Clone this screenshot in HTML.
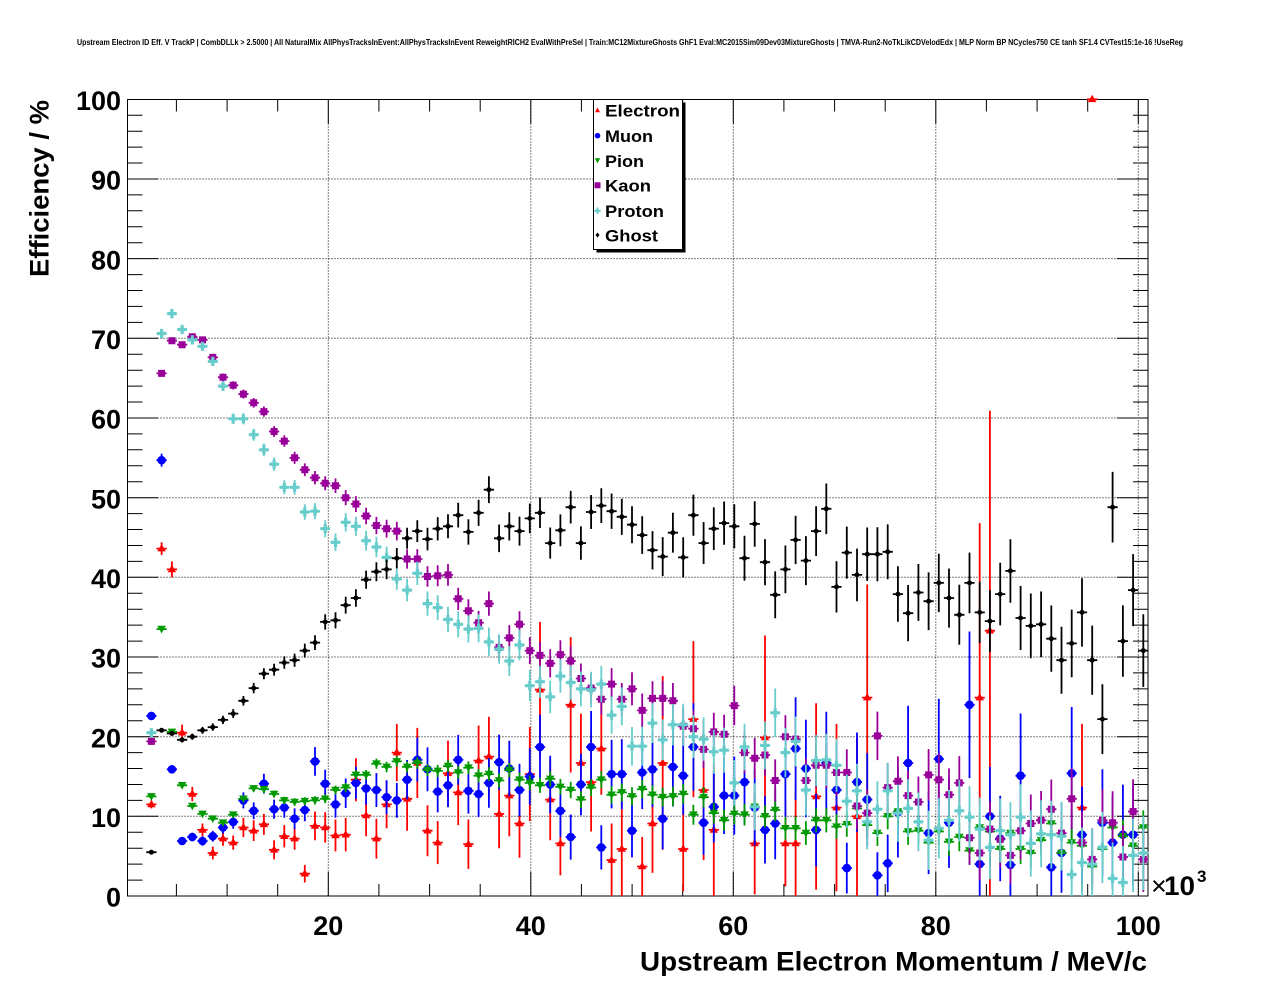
<!DOCTYPE html>
<html><head><meta charset="utf-8">
<style>html,body{margin:0;padding:0;background:#fff;}svg{display:block;}</style>
</head><body>
<svg id="s" xmlns="http://www.w3.org/2000/svg" width="1276" height="996" viewBox="0 0 1276 996" font-family="'Liberation Sans', Arial, sans-serif" font-weight="bold">
<rect width="1276" height="996" fill="#fff"/>
<text x="77" y="45" font-size="8" textLength="1106" lengthAdjust="spacingAndGlyphs">Upstream Electron ID Eff. V TrackP | CombDLLk &gt; 2.5000 | All NaturalMix AllPhysTracksInEvent:AllPhysTracksInEvent ReweightRICH2 EvalWithPreSel | Train:MC12MixtureGhosts GhF1 Eval:MC2015Sim09Dev03MixtureGhosts | TMVA-Run2-NoTkLikCDVelodEdx | MLP Norm BP NCycles750 CE tanh SF1.4 CVTest15:1e-16 !UseReg</text>
<path id="grid" fill="none" stroke="#000" stroke-width="1" stroke-dasharray="1 2" d=""/>
<path id="ticks" fill="none" stroke="#000" stroke-width="1" d=""/>
<rect x="127.5" y="99.5" width="1020.5" height="796.5" fill="none" stroke="#000" stroke-width="1"/>
<g id="data"></g>
<g font-size="27" text-anchor="end">
<text x="121" y="110">100</text>
<text x="121" y="189.7">90</text>
<text x="121" y="269.4">80</text>
<text x="121" y="349">70</text>
<text x="121" y="428.7">60</text>
<text x="121" y="508.4">50</text>
<text x="121" y="588">40</text>
<text x="121" y="667.7">30</text>
<text x="121" y="747.4">20</text>
<text x="121" y="827">10</text>
<text x="121" y="906.5">0</text>
</g>
<g font-size="27" text-anchor="middle">
<text x="328.3" y="935">20</text>
<text x="530.8" y="935">40</text>
<text x="733.3" y="935">60</text>
<text x="935.8" y="935">80</text>
<text x="1138.3" y="935">100</text>
</g>
<text x="1151" y="895" font-size="27" font-weight="normal">×</text>
<text x="1164" y="895" font-size="27" textLength="31" lengthAdjust="spacingAndGlyphs">10</text>
<text x="1197" y="882" font-size="17">3</text>
<text x="1147" y="970.5" font-size="27" text-anchor="end" textLength="507" lengthAdjust="spacingAndGlyphs">Upstream Electron Momentum / MeV/c</text>
<text transform="translate(48.5,277) rotate(-90)" x="0" y="0" font-size="27" textLength="177" lengthAdjust="spacingAndGlyphs">Efficiency / %</text>
<rect x="596.5" y="102.5" width="89" height="150" fill="#000"/>
<rect x="593.5" y="99.5" width="89" height="150" fill="#fff" stroke="#000" stroke-width="1"/>
<g font-size="17">
<text x="605" y="116.5" textLength="75" lengthAdjust="spacingAndGlyphs">Electron</text>
<text x="605" y="142" textLength="48" lengthAdjust="spacingAndGlyphs">Muon</text>
<text x="605" y="167" textLength="39" lengthAdjust="spacingAndGlyphs">Pion</text>
<text x="605" y="191.5" textLength="46" lengthAdjust="spacingAndGlyphs">Kaon</text>
<text x="605" y="217" textLength="59" lengthAdjust="spacingAndGlyphs">Proton</text>
<text x="605" y="241.5" textLength="53" lengthAdjust="spacingAndGlyphs">Ghost</text>
</g>
<path d="M597.5 107.5L600 112.3L595 112.3Z" fill="#ff0000"/>
<circle cx="597.5" cy="135.7" r="2.8" fill="#0000ff"/>
<path d="M594.8 158.3L600.2 158.3L597.5 163.3Z" fill="#009900"/>
<rect x="594.5" y="182.3" width="6" height="6" fill="#990099"/>
<path d="M596.5 207.5h2v2.2h2.2v2h-2.2v2.2h-2v-2.2h-2.2v-2h2.2Z" fill="#66cccc"/>
<path d="M597.5 232.5L599.5 235L597.5 237.5L595.5 235Z" fill="#000"/>
<script>
(function(){
const NS='http://www.w3.org/2000/svg';
const X=v=>125.8+10.125*v, Y=v=>896-7.967*v, XC=i=>151.4+10.226*i;
const r=n=>Math.round(n*10)/10;
let grid='',ticks='';
for(let v=10;v<=90;v+=10){const y=r(Y(v));grid+=`M127.5 ${y}H1148`;}
for(let v=20;v<=100;v+=20){const x=r(X(v));grid+=`M${x} 99.5V896`;}
for(let v=2;v<=98;v+=2){const y=r(Y(v));const L=v%10==0?31:15;ticks+=`M127.5 ${y}h${L}M1148 ${y}h${-L}`;}
for(let v=5;v<=100;v+=5){const x=r(X(v));const L=v%20==0?24:12;ticks+=`M${x} 896v${-L}M${x} 99.5v${L}`;}
document.getElementById('grid').setAttribute('d',grid);
document.getElementById('ticks').setAttribute('d',ticks);
const dataG=document.getElementById('data');
function addPath(d,attrs){const p=document.createElementNS(NS,'path');p.setAttribute('d',d);for(const k in attrs)p.setAttribute(k,attrs[k]);dataG.appendChild(p);}
function series(vals,errf,color,marker){
  let eb='',mk='';
  vals.forEach((v,i)=>{
    if(v==null) return;
    const x=XC(i), y=Y(v);
    const e=errf(i,v); let lo,hi;
    if(Array.isArray(e)){lo=e[0];hi=e[1];}else{lo=hi=e;}
    const y1=Y(Math.min(100,v+hi)), y2=Y(Math.max(0,v-lo));
    eb+=`M${r(x-5.1)} ${r(y)}H${r(x+5.1)}`;
    if(y2-y1>0.5) eb+=`M${r(x)} ${r(y1)}V${r(y2)}`;
    mk+=marker(x,y);
  });
  addPath(eb,{stroke:color,'stroke-width':1.8,fill:'none'});
  addPath(mk,{fill:color});
}
const triUp=(x,y)=>`M${r(x)} ${r(y-4.6)}L${r(x+4.2)} ${r(y+2.8)}L${r(x-4.2)} ${r(y+2.8)}Z`;
const circ=(x,y)=>`M${r(x-4.3)} ${r(y)}a4.3 4.3 0 1 0 8.6 0a4.3 4.3 0 1 0 -8.6 0Z`;
const triDn=(x,y)=>`M${r(x-4.3)} ${r(y-3.3)}L${r(x+4.3)} ${r(y-3.3)}L${r(x)} ${r(y+4.3)}Z`;
const sq=(x,y)=>`M${r(x-3.5)} ${r(y-3.5)}h7v7h-7Z`;
const cross=(x,y)=>`M${r(x-1.6)} ${r(y-4.6)}h3.2v3h3v3.2h-3v3h-3.2v-3h-3v-3.2h3Z`;
const dot=(x,y)=>`M${r(x-2.5)} ${r(y)}a2.5 2.5 0 1 0 5 0a2.5 2.5 0 1 0 -5 0Z`;
const N=null;
const E=[11.5,43.6,41.0,20.5,12.8,8.3,5.4,7.2,6.7,8.6,8.2,9.0,5.8,7.5,7.2,2.8,8.8,8.6,7.6,7.7,14.6,10.1,7.2,11.5,18.0,12.2,16.7,8.2,6.7,15.4,13.0,6.5,17.0,17.5,10.3,12.6,9.1,15.3,25.9,12.1,6.6,24.0,16.7,14.3,18.5,4.5,5.9,N,3.7,9.1,16.7,N,5.9,22.2,13.3,8.3,N,N,N,6.6,19.9,N,6.6,6.6,N,12.5,N,11.1,N,10.0,24.9,N,N,N,N,N,N,N,N,N,N,24.9,33.3,N,N,N,N,N,N,N,N,11.1,100,N,N,N,N,N];
const EE=[.5,.8,1.0,1.0,.9,.8,.8,.9,.9,1.2,1.3,1.3,1.2,1.4,1.4,1.1,1.8,1.9,2.0,2.1,2.7,2.6,2.5,3.0,3.6,4.0,4.4,3.2,2.7,4.1,4.1,3.1,4.4,5.0,4.3,5.1,4.3,5.9,8.5,5.1,4.0,8.5,6.2,6.2,5.8,4.6,5.9,0,3.7,6.2,10.9,0,5.3,9.8,8.8,8.3,0,0,0,6.4,12.8,0,5.4,6.6,0,11.7,0,10.5,0,10.0,14.2,0,0,0,0,0,0,0,0,0,0,[13.5,21.9],[33.3,27.6],0,0,0,0,0,0,0,0,10.5,0,0,0,0,0,0];
const M=[22.6,54.7,15.9,6.9,7.4,6.9,7.5,8.6,9.3,12.0,10.7,14.1,10.9,11.1,9.7,10.8,16.9,14.1,11.5,12.9,14.2,13.5,13.3,12.4,12.0,14.6,17.1,15.9,13.1,13.9,17.1,13.2,12.8,14.2,16.8,16.0,13.3,15.0,18.7,14.0,10.7,7.4,14.0,18.7,6.1,15.3,15.3,8.2,15.5,15.9,9.7,16.2,15.1,18.7,9.2,11.2,12.6,12.6,14.3,11.1,8.3,9.1,15.3,18.5,16.0,8.3,16.7,13.3,3.5,14.3,12.1,2.6,4.1,10.5,16.7,N,7.9,17.2,9.2,N,24.0,4.0,10.0,7.2,3.9,15.1,N,N,3.6,5.4,15.4,7.7,N,9.2,6.7,7.7,7.7,N];
const P=[12.5,33.5,20.6,13.9,11.3,10.3,9.7,9.2,10.2,12.2,13.5,13.4,12.8,12.0,11.8,11.9,12.0,12.2,13.3,13.6,15.2,15.2,16.6,16.2,16.9,16.2,16.7,15.8,15.7,16.3,15.5,16.1,15.1,15.3,14.5,15.8,14.6,14.2,13.9,14.7,13.7,13.3,12.1,13.6,14.6,12.7,13.0,12.5,13.4,12.7,12.4,12.5,12.8,10.2,12.4,10.4,9.5,10.3,10.2,11.2,10.0,10.8,8.5,8.5,7.9,9.5,9.5,8.7,9.0,11.0,8.9,7.9,10.0,10.6,8.1,8.2,6.7,8.1,6.8,7.4,5.7,8.6,8.1,5.9,7.9,5.9,5.4,7.0,9.1,5.4,6.7,6.3,3.7,5.9,8.6,7.5,6.3,8.6];
const K=[19.4,65.6,69.7,69.2,70.2,69.8,67.6,65.1,64.1,63.0,61.9,60.8,58.3,57.1,55.0,53.5,52.5,51.8,51.5,50.0,49.2,47.7,46.5,46.1,45.8,42.3,42.3,40.1,40.2,40.3,37.3,35.8,34.3,36.7,31.2,32.4,34.1,30.8,30.2,29.2,30.3,29.5,27.3,26.1,24.7,26.6,24.7,26.0,23.3,24.8,24.8,24.5,21.3,21.0,18.4,20.6,20.3,23.9,18.0,17.3,17.7,14.5,20.0,19.7,14.5,16.4,16.4,15.5,15.5,11.3,10.4,20.1,13.6,14.4,12.6,11.8,15.2,14.6,12.7,14.2,7.3,5.4,8.4,7.1,5.1,8.2,9.1,9.5,10.9,7.9,12.2,6.7,4.6,9.5,9.2,4.9,10.6,4.6];
const PR=[20.5,70.6,73.1,71.1,69.8,69.0,67.1,64.0,59.9,59.9,57.9,56.0,54.2,51.3,51.3,48.2,48.3,46.1,44.4,46.9,46.4,44.6,43.8,42.5,39.8,38.4,40.5,36.7,36.2,34.7,34.1,33.5,33.6,31.9,31.0,29.5,31.5,26.4,26.9,25.0,27.6,26.8,26.0,25.9,26.6,22.7,23.8,18.8,18.8,21.7,19.6,21.5,21.5,20.0,19.7,18.1,18.3,14.2,18.7,11.2,18.9,23.0,18.0,19.4,13.3,17.0,17.1,16.4,11.9,13.2,9.3,10.9,13.2,10.4,11.0,9.3,7.0,8.5,9.5,10.7,9.9,8.4,6.1,8.2,7.7,9.9,6.6,7.8,7.7,7.5,2.7,4.2,4.0,6.1,2.2,1.7,5.1,5.4];
const G=[5.5,20.8,20.4,19.6,20.0,20.8,21.2,22.1,22.9,24.5,26.1,27.9,28.4,29.3,29.6,30.8,31.8,34.4,34.6,36.5,37.4,39.7,40.7,41.0,42.4,44.9,45.8,44.8,46.1,46.4,47.8,45.7,48.1,51.0,44.9,46.4,45.8,47.4,48.1,44.3,45.9,48.8,44.3,48.2,49.0,48.3,47.6,46.6,45.3,43.4,42.6,45.6,42.5,47.8,44.3,46.1,46.8,46.4,42.4,46.7,41.9,37.8,41.0,44.7,42.1,45.8,48.6,38.8,43.1,40.3,42.9,42.9,43.2,37.9,35.5,38.1,37.0,39.3,37.4,35.3,39.3,35.6,34.5,37.9,40.8,34.9,33.9,34.1,32.3,29.6,31.7,35.6,29.6,22.2,48.8,32.0,38.4,30.8];
series(E,(i,v)=>EE[i],'#ff0000',triUp);
series(M,(i,v)=>i==0?0.4:(i==1?0.8:0.3+0.085*i*Math.sqrt(v/14)),'#0000ff',circ);
series(P,(i,v)=>0.2+0.02*i,'#009900',triDn);
series(K,(i,v)=>0.2+0.04*i,'#990099',sq);
series(PR,(i,v)=>0.3+0.045*i,'#66cccc',cross);
series(G,(i,v)=>0.2+0.045*i,'#000000',dot);
})();
</script>
</svg>
</body></html>
